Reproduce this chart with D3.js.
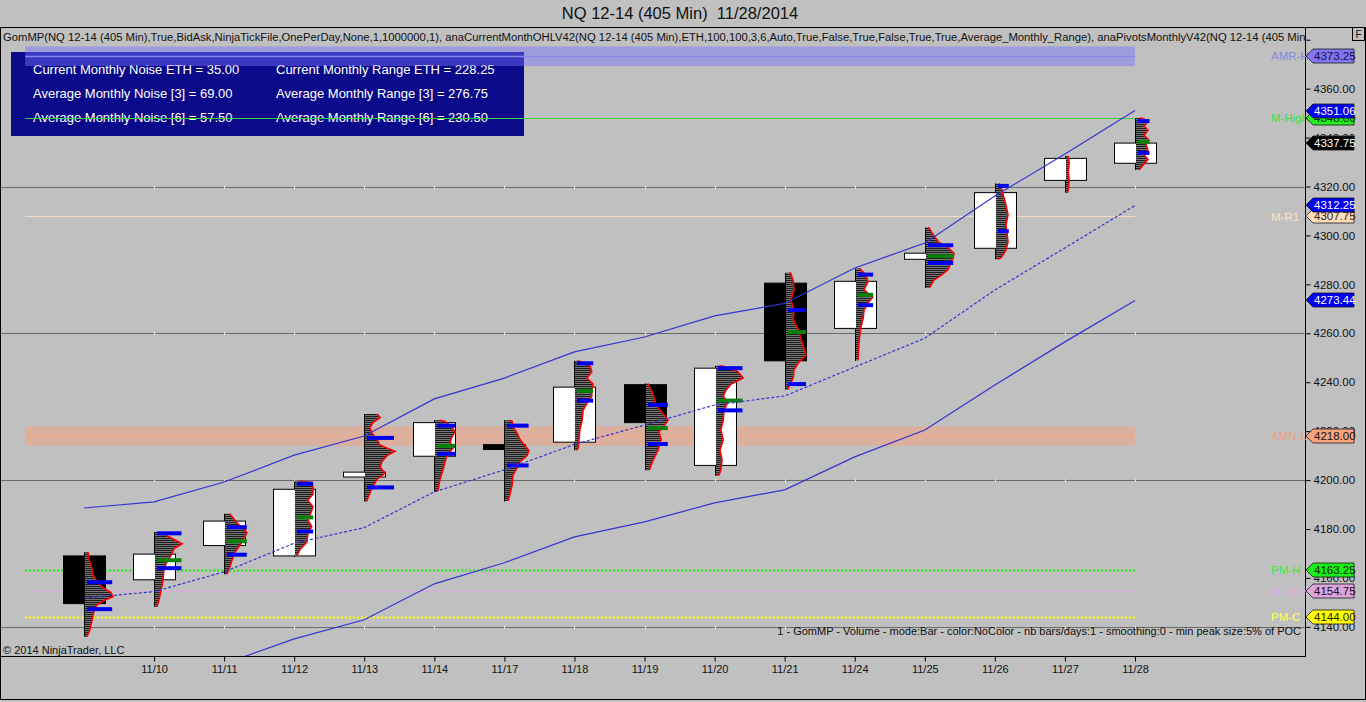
<!DOCTYPE html>
<html><head><meta charset="utf-8">
<script src="https://cdn.jsdelivr.net/npm/d3@7/dist/d3.min.js"></script>
<style>
html,body{margin:0;padding:0;background:#c0c0c0;overflow:hidden}
svg{display:block;font-family:"Liberation Sans",Arial,sans-serif}
</style></head><body>
<svg id="chart" width="1366" height="702"></svg>
<script>
// ---------------- DATA ----------------
const dates  = ["11/07","11/10","11/11","11/12","11/13","11/14","11/17","11/18","11/19","11/20","11/21","11/24","11/25","11/26","11/27","11/28"];
const opens  = [4169.00,4159.25,4173.25,4169.00,4201.25,4209.75,4214.50,4215.50,4239.00,4206.00,4280.50,4262.00,4290.25,4294.75,4322.50,4329.50];
const highs  = [4170.50,4178.75,4186.25,4199.50,4227.00,4224.50,4224.50,4248.75,4239.50,4246.75,4284.75,4286.50,4303.25,4321.25,4332.50,4348.00];
const lows   = [4136.00,4148.25,4161.50,4168.50,4191.25,4195.25,4191.25,4212.25,4204.00,4201.75,4237.00,4248.75,4278.50,4290.25,4317.50,4326.75];
const closes = [4149.50,4169.75,4183.25,4196.25,4203.25,4223.50,4212.50,4238.00,4223.50,4245.75,4248.75,4281.25,4292.75,4317.50,4331.50,4337.75];

const upperBand = [4188.6,4191.1,4199.2,4210.2,4218.0,4233.2,4241.7,4252.4,4258.5,4267.1,4272.2,4286.7,4296.9,4316.1,4333.3,4351.06];
const midBand   = [4151.8,4154.4,4162.5,4174.2,4180.6,4195.2,4204.2,4214.6,4222.5,4230.7,4234.4,4246.2,4258.0,4277.7,4294.9,4312.25];
const lowerBand = [4110.1,4116.3,4124.9,4135.1,4142.9,4157.6,4166.2,4176.8,4182.9,4190.7,4196.0,4209.5,4220.5,4238.9,4256.5,4273.44];

// volume profile per bar: [price, relative volume]
const profiles = [
 [[4170.5,8],[4167.25,10],[4165.25,15],[4161.25,20],[4158.5,30],[4156,45],[4154,65],[4152.25,70],[4151,50],[4149,30],[4146.25,22],[4143,18],[4138.75,12],[4136,5]],
 [[4178.75,15],[4177.25,30],[4174,68],[4172,48],[4169.25,40],[4166,28],[4163,22],[4159,20],[4155,15],[4151,10],[4148.25,5]],
 [[4186.25,12],[4182.5,30],[4178.5,55],[4175.5,45],[4173.5,38],[4170.5,25],[4167.5,18],[4164.5,12],[4161.5,5]],
 [[4199.5,10],[4199,42],[4197,45],[4194.25,45],[4191.75,32],[4189,45],[4186,38],[4183.75,32],[4181,42],[4178,32],[4174.75,30],[4171.5,12],[4169,5]],
 [[4227,30],[4225.5,38],[4223.5,20],[4221.5,12],[4219,18],[4216.5,30],[4214.25,38],[4211.75,75],[4210,55],[4207.5,42],[4205.25,38],[4202.75,50],[4200.25,30],[4197,18],[4193,8],[4191.25,4]],
 [[4224.5,12],[4224,25],[4221.75,42],[4219.75,50],[4217.5,42],[4215.5,38],[4213,45],[4210.25,30],[4207.5,25],[4204.25,20],[4200,12],[4196,8],[4195.25,4]],
 [[4224.5,10],[4224,18],[4221.75,20],[4219.25,30],[4216.5,38],[4214,50],[4212,60],[4210,55],[4207.5,38],[4205,30],[4202,20],[4198,18],[4194,12],[4191.5,8]],
 [[4248.75,8],[4248.5,12],[4246.5,38],[4244.25,42],[4241.75,30],[4239.25,45],[4236.75,42],[4234.25,42],[4232,32],[4228.5,20],[4224.5,18],[4220.5,12],[4216.5,10],[4213,8],[4212.25,4]],
 [[4239.5,5],[4234.75,18],[4230.75,25],[4228,38],[4224.5,55],[4222,45],[4219.75,32],[4216.5,38],[4212.25,30],[4208.25,18],[4204,8]],
 [[4246.75,8],[4246.5,18],[4244.25,55],[4241.75,68],[4239.25,38],[4236.75,25],[4234.25,18],[4232,30],[4228.5,20],[4224.5,18],[4220.5,12],[4216.5,18],[4212.25,10],[4208.25,15],[4204,12],[4201.75,6]],
 [[4284.75,8],[4284.5,12],[4281.75,18],[4277.75,20],[4273.5,12],[4269.5,20],[4265.5,18],[4261.25,32],[4257.25,38],[4254,45],[4251,50],[4248.25,32],[4245,20],[4241.75,18],[4238.5,8],[4237,4]],
 [[4286.5,8],[4286,12],[4283.75,25],[4281,30],[4277.75,20],[4274.75,42],[4272.75,32],[4269.5,20],[4266.25,18],[4262.25,12],[4257.25,8],[4249,5]],
 [[4303.25,5],[4303,8],[4300.25,18],[4297.25,32],[4295,55],[4292.75,70],[4290.75,68],[4288.75,62],[4286,55],[4283.75,38],[4281.75,20],[4278.5,8]],
 [[4321.25,8],[4320.5,12],[4316.5,18],[4312.5,25],[4308.5,30],[4304.25,25],[4300.25,28],[4297.25,30],[4294,25],[4290.75,12],[4290.25,5]],
 [[4332.5,5],[4330,8],[4326,6],[4322,8],[4319,6],[4317.5,4]],
 [[4348,10],[4347.75,18],[4346.5,30],[4344.75,20],[4343,30],[4341,20],[4339,32],[4337,25],[4335,30],[4333,20],[4331,30],[4328.75,18],[4326.75,8]]
];
const vaHigh = [4158.25,4178.25,4180.75,4198.5,4217.25,4222.25,4222.25,4247.75,4230.75,4245.75,4269.5,4284.0,4296.0,4320.25,null,4346.75];
const vaLow  = [4147.25,4164.0,4169.5,4179.0,4197.0,4210.75,4206.0,4232.5,4214.75,4228.5,4239.25,4271.5,4288.75,4301.75,null,4333.75];
const pocs   = [null,4167.25,4175.0,4184.75,null,4214.0,null,4236.5,4221.25,4232.5,4260.5,4275.75,4291.5,null,null,4338.25];

const levelNames  = ["AMR-H","M-High","M-R1","AMN-L","PM-H","M-Open","PM-C"];
const levelValues = [4373.25,4348.00,4307.75,4218.00,4163.25,4154.75,4144.00];
const bandHalfWidth = 4;

const gridPrices = [4140,4200,4260,4320];
const priceTicks = [4140,4160,4180,4200,4220,4240,4260,4280,4300,4320,4340,4360,4380];

const infoLeft  = ["Current Monthly Noise ETH = 35.00","Average Monthly Noise [3] = 69.00","Average Monthly Noise [6] = 57.50"];
const infoRight = ["Current Monthly Range ETH = 228.25","Average Monthly Range [3] = 276.75","Average Monthly Range [6] = 230.50"];

const titleText = "NQ 12-14 (405 Min)  11/28/2014";
const indicatorText = "GomMP(NQ 12-14 (405 Min),True,BidAsk,NinjaTickFile,OnePerDay,None,1,1000000,1), anaCurrentMonthOHLV42(NQ 12-14 (405 Min),ETH,100,100,3,6,Auto,True,False,True,False,True,True,Average_Monthly_Range), anaPivotsMonthlyV42(NQ 12-14 (405 Min";
const footerText = "1 - GomMP - Volume - mode:Bar - color:NoColor - nb bars/days:1 - smoothing:0 - min peak size:5% of POC";
const copyText = "\u00A9 2014 NinjaTrader, LLC";

// ---------------- LAYOUT ----------------
const svg = d3.select("#chart");
const plot = {l:1, t:27, r:1305, b:656};
const y = d3.scaleLinear().domain([4128.1,4385.2]).range([plot.b, plot.t]);
const x = d3.scalePoint().domain(dates).range([84,1135]);
const step = x.step();
const xv = d3.scaleLinear().domain([0,100]).range([0,40]);
const lvlX0 = x(dates[0]) - 0.84*step, lvlX1 = x(dates[dates.length-1]);
const fmt = d3.format(".2f");

const levelStyle = {
  "AMR-H": {line:"#8a86ee", w:1.5, dash:null, text:"#8484e6", tag:"#8276f0", tagText:"#10104a", band:"rgba(118,112,255,0.45)"},
  "M-High":{line:"#3cd23c", w:1, dash:null, text:"#3ee03e", tag:"#22ee22", tagText:"#003300"},
  "M-R1":  {line:"#f4dcc2", w:1, dash:null, text:"#fbe2cc", tag:"#ffdcbc", tagText:"#302010"},
  "AMN-L": {line:"#f2a486", w:1, dash:null, text:"#f2a080", tag:"#f8a27e", tagText:"#201008", band:"rgba(255,158,120,0.45)"},
  "PM-H":  {line:"#10ee10", w:2, dash:"2,2", text:"#40e840", tag:"#18ee18", tagText:"#002200"},
  "M-Open":{line:"#dcaadc", w:1, dash:null, text:"#dcb4dc", tag:"#dca6dc", tagText:"#200a20"},
  "PM-C":  {line:"#ffff00", w:2, dash:"2,2", text:"#ffff50", tag:"#ffff00", tagText:"#202000"}
};

const defs = svg.append("defs");
defs.append("clipPath").attr("id","plotClip").append("rect")
  .attr("x",plot.l).attr("y",plot.t).attr("width",plot.r-plot.l).attr("height",plot.b-plot.t);
const pat = defs.append("pattern").attr("id","stripes").attr("patternUnits","userSpaceOnUse")
  .attr("width",4).attr("height",2);
pat.append("rect").attr("width",4).attr("height",1).attr("fill","#1c1c1c");
pat.append("rect").attr("y",1).attr("width",4).attr("height",1).attr("fill","#767676");

svg.append("rect").attr("width",1366).attr("height",702).attr("fill","#c0c0c0");

// title
svg.append("text").attr("x",680).attr("y",13).attr("dy","0.35em").attr("text-anchor","middle")
  .style("white-space","pre").attr("font-size",16.5).attr("fill","#111").text(titleText);

const g = svg.append("g").attr("clip-path","url(#plotClip)");

// indicator description
g.append("text").attr("x",3).attr("y",37).attr("dy","0.35em").attr("font-size",11.25).attr("fill","#111")
  .text(indicatorText);

// info box
g.append("rect").attr("x",11).attr("y",52).attr("width",513).attr("height",84).attr("fill","#0a0a8a");
const rowsY = [69.5,93,117];
infoLeft.forEach((t,i)=> g.append("text").attr("x",33).attr("y",rowsY[i]).attr("dy","0.35em")
  .attr("font-size",13).attr("fill","#fff").text(t));
infoRight.forEach((t,i)=> g.append("text").attr("x",276).attr("y",rowsY[i]).attr("dy","0.35em")
  .attr("font-size",13).attr("fill","#fff").text(t));

// gridlines
g.selectAll(".grid").data(gridPrices).join("line")
  .attr("x1",plot.l).attr("x2",plot.r).attr("y1",d=>Math.round(y(d))+0.5).attr("y2",d=>Math.round(y(d))+0.5)
  .attr("stroke","#6a6a6a").attr("stroke-width",1);
gridPrices.forEach(p=>{
  g.selectAll(null).data(dates.slice(1)).join("line")
    .attr("x1",d=>Math.round(x(d))+0.5).attr("x2",d=>Math.round(x(d))+0.5)
    .attr("y1",Math.round(y(p))-1).attr("y2",Math.round(y(p))+2)
    .attr("stroke","#e6e6e6").attr("stroke-width",1);
});

// bands + levels
levelNames.forEach((n,i)=>{
  const s = levelStyle[n], v = levelValues[i];
  if (s.band) {
    g.append("rect").attr("x",lvlX0).attr("width",lvlX1-lvlX0)
      .attr("y",y(v+bandHalfWidth)).attr("height",y(v-bandHalfWidth)-y(v+bandHalfWidth))
      .attr("fill",s.band);
  }
  g.append("line").attr("x1",lvlX0).attr("x2",lvlX1)
    .attr("y1",Math.round(y(v))+0.5).attr("y2",Math.round(y(v))+0.5)
    .attr("stroke",s.line).attr("stroke-width",s.w).attr("stroke-dasharray",s.dash);
});

// candles
const bars = dates.map((d,i)=>({d,o:opens[i],h:highs[i],l:lows[i],c:closes[i],prof:profiles[i],vah:vaHigh[i],val:vaLow[i],poc:pocs[i]}));
const cg = g.append("g");
cg.selectAll(".wick").data(bars).join("line")
  .attr("x1",b=>Math.round(x(b.d))+0.5).attr("x2",b=>Math.round(x(b.d))+0.5)
  .attr("y1",b=>y(b.h)).attr("y2",b=>y(b.l)).attr("stroke","#000").attr("stroke-width",1);
cg.selectAll(".body").data(bars).join("rect")
  .attr("x",b=>Math.round(x(b.d))-20.5).attr("width",42)
  .attr("y",b=>y(Math.max(b.o,b.c))).attr("height",b=>Math.max(1,y(Math.min(b.o,b.c))-y(Math.max(b.o,b.c))))
  .attr("fill",b=>b.c>=b.o?"#fff":"#000").attr("stroke","#000").attr("stroke-width",1);

// volume profiles
const pg = g.append("g");
bars.forEach(b=>{
  const cx = Math.round(x(b.d))+1;
  const area = d3.area().y(p=>y(p[0])).x0(cx).x1(p=>cx+xv(p[1])).curve(d3.curveLinear);
  pg.append("path").datum(b.prof).attr("d",area).attr("fill","url(#stripes)");
  const line = d3.line().y(p=>y(p[0])).x(p=>cx+xv(p[1]));
  pg.append("path").datum(b.prof).attr("d",line).attr("fill","none").attr("stroke","#f00").attr("stroke-width",1.6);
  const mLen = xv(d3.max(b.prof,p=>p[1]))*0.9;
  [[b.vah,"#0000f0"],[b.val,"#0000f0"],[b.poc,"#0a800a"]].forEach(([v,c])=>{
    if (v==null) return;
    pg.append("rect").attr("x",cx+2).attr("width",mLen).attr("y",y(v)-2).attr("height",4).attr("fill",c);
  });
});

// trend lines
const tl = d3.line().x((v,i)=>x(dates[i])).y(v=>y(v));
g.append("path").datum(upperBand).attr("d",tl).attr("fill","none").attr("stroke","#3434d2").attr("stroke-width",1.2);
g.append("path").datum(lowerBand).attr("d",tl).attr("fill","none").attr("stroke","#3434d2").attr("stroke-width",1.2);
g.append("path").datum(midBand).attr("d",tl).attr("fill","none").attr("stroke","#3434d2").attr("stroke-width",1.2).attr("stroke-dasharray","3,2");

// footer texts
g.append("text").attr("x",1301).attr("y",631).attr("dy","0.35em").attr("text-anchor","end")
  .attr("font-size",11).attr("fill","#111").text(footerText);
g.append("text").attr("x",3).attr("y",650).attr("dy","0.35em")
  .attr("font-size",11).attr("fill","#111").text(copyText);

// frames
svg.append("rect").attr("x",0.5).attr("y",27.5).attr("width",1365).attr("height",672).attr("fill","none").attr("stroke","#000");
svg.append("rect").attr("x",0.5).attr("y",27.5).attr("width",plot.r).attr("height",plot.b-plot.t).attr("fill","none").attr("stroke","#000");

// axes
const yAxis = d3.axisRight(y).tickValues(priceTicks).tickSize(5).tickPadding(3)
  .tickFormat(d=>d>=4380?"":fmt(d));
const ya = svg.append("g").attr("transform",`translate(${plot.r+0.5},0)`).call(yAxis);
ya.select(".domain").remove();
ya.selectAll("text").attr("font-size",11.5).attr("font-family","Liberation Sans, Arial, sans-serif").attr("fill","#111");

const xAxis = d3.axisBottom(x).tickValues(dates.slice(1)).tickSize(5).tickPadding(4);
const xa = svg.append("g").attr("transform",`translate(0,${plot.b+0.5})`).call(xAxis);
xa.select(".domain").remove();
xa.selectAll("text").attr("font-size",11).attr("font-family","Liberation Sans, Arial, sans-serif").attr("fill","#111");

// level names
levelNames.forEach((n,i)=>{
  svg.append("text").attr("x",1271).attr("y",y(levelValues[i])).attr("dy","0.35em")
    .attr("font-size",11.5).attr("fill",levelStyle[n].text).text(n);
});

// price tags
function tag(v, fill, txt){
  const yy = Math.round(y(v));
  const pts = [[plot.r+1,yy],[plot.r+8,yy-7],[1354,yy-7],[1354,yy+7],[plot.r+8,yy+7]];
  svg.append("polygon").attr("points",pts.map(p=>p.join(",")).join(" "))
    .attr("fill",fill).attr("stroke","#1a1a1a").attr("stroke-width",0.8);
  svg.append("text").attr("x",plot.r+9).attr("y",yy).attr("dy","0.36em").attr("font-size",11.5)
    .attr("fill",txt).text(fmt(v));
}
levelNames.forEach((n,i)=> tag(levelValues[i], levelStyle[n].tag, levelStyle[n].tagText));
tag(upperBand[upperBand.length-1], "#0000f0", "#fff");
tag(midBand[midBand.length-1], "#0000f0", "#fff");
tag(lowerBand[lowerBand.length-1], "#0000f0", "#fff");
tag(closes[closes.length-1], "#000", "#fff");

// F box
svg.append("rect").attr("x",1352.5).attr("y",27.5).attr("width",12).attr("height",13).attr("fill","#c0c0c0").attr("stroke","#000");
svg.append("text").attr("x",1358.5).attr("y",34).attr("dy","0.35em").attr("text-anchor","middle").attr("font-size",10).attr("fill","#111").text("F");
</script>
</body></html>
